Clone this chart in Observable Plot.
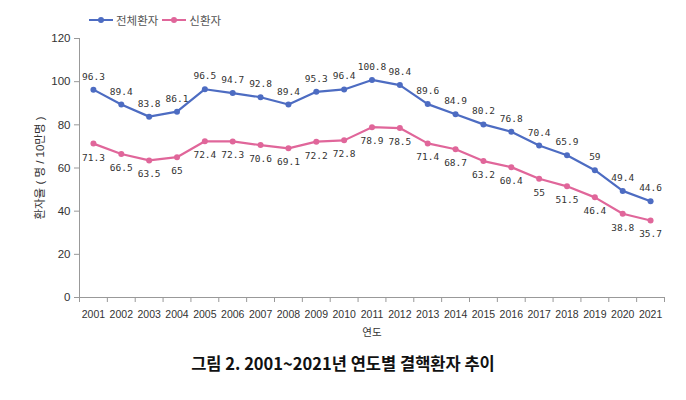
<!DOCTYPE html>
<html><head><meta charset="utf-8">
<script src="https://cdn.jsdelivr.net/npm/d3@7"></script>
<script src="https://cdn.jsdelivr.net/npm/@observablehq/plot@0.6"></script>
<style>
body{margin:0;background:#fff;font-family:"Liberation Sans","Noto Sans CJK KR",sans-serif;}
#wrap{position:relative;width:686px;height:400px;}
#legend{position:absolute;left:89px;top:12px;font-size:11.5px;color:#555;display:flex;align-items:center;font-family:"Noto Sans CJK KR",sans-serif;}
.sw{display:inline-block;position:relative;width:24px;height:2px;margin-right:3px;}
.sw i{position:absolute;left:9px;top:-2.5px;width:6px;height:6px;border-radius:50%;}
#chart{position:absolute;left:0;top:0;}
#title{position:absolute;left:0;width:686px;top:351px;text-align:center;font-size:16.5px;font-weight:bold;color:#111;font-family:"Noto Sans CJK KR",sans-serif;}
</style></head>
<body><div id="wrap"><div id="legend"></div><div id="chart"></div><div id="title">그림 2. 2001~2021년 연도별 결핵환자 추이</div></div>
<script>
const years = [2001,2002,2003,2004,2005,2006,2007,2008,2009,2010,2011,2012,2013,2014,2015,2016,2017,2018,2019,2020,2021];
const totalRate = [96.3,89.4,83.8,86.1,96.5,94.7,92.8,89.4,95.3,96.4,100.8,98.4,89.6,84.9,80.2,76.8,70.4,65.9,59,49.4,44.6];
const newRate = [71.3,66.5,63.5,65,72.4,72.3,70.6,69.1,72.2,72.8,78.9,78.5,71.4,68.7,63.2,60.4,55,51.5,46.4,38.8,35.7];
const seriesNames = ["전체환자","신환자"];
const seriesColors = ["#4d6cc2","#e0669a"];
const yTicks = [0,20,40,60,80,100,120];

const totalData = years.map((yr,i)=>({year:yr, value:totalRate[i], series:seriesNames[0]}));
const newData = years.map((yr,i)=>({year:yr, value:newRate[i], series:seriesNames[1]}));
const data = totalData.concat(newData);
const bounds = years.map(y=>y-0.5).concat([years[years.length-1]+0.5]);

const legend = document.getElementById("legend");
seriesNames.forEach((n,i)=>{
  const s=document.createElement("span");
  s.style.display="inline-flex";s.style.alignItems="center";s.style.marginRight="4px";
  s.innerHTML=`<span class="sw" style="background:${seriesColors[i]}"><i style="background:${seriesColors[i]}"></i></span>${n}`;
  legend.appendChild(s);
});

const chart = Plot.plot({
  width:686, height:345,
  marginLeft:79, marginRight:22, marginTop:38, marginBottom:48,
  style:{fontFamily:'"Liberation Sans","Noto Sans CJK KR",sans-serif', color:"#333", background:"transparent"},
  x:{type:"linear", domain:[bounds[0], bounds[bounds.length-1]]},
  y:{domain:[0,120]},
  color:{domain:seriesNames, range:seriesColors},
  marks:[
    Plot.axisY({ticks:yTicks, tickSize:5, tickPadding:4, fontSize:11.5, stroke:"#999", fill:"#333",
      label:"환자율 ( 명 / 10만명 )", labelAnchor:"center", labelOffset:44, labelArrow:false}),
    Plot.axisX({ticks:years, tickSize:0, tickPadding:13, tickFormat:"d", fontSize:10.5, fill:"#333",
      label:"연도", labelAnchor:"center", labelOffset:38, labelArrow:false}),
    Plot.axisX({ticks:bounds, tickSize:5, stroke:"#999", tickFormat:()=>"", label:null}),
    Plot.ruleX([bounds[0]], {y1:0, y2:120, stroke:"#999"}),
    Plot.ruleY([0], {stroke:"#999"}),
    Plot.line(data, {x:"year", y:"value", z:"series", stroke:"series", strokeWidth:2.2}),
    Plot.dot(data, {x:"year", y:"value", fill:"series", r:3}),
    Plot.text(totalData, {x:"year", y:"value", text:d=>String(d.value), dy:-13, fontSize:9.5, fill:"#333", fontFamily:"DejaVu Sans Mono"}),
    Plot.text(newData, {x:"year", y:"value", text:d=>String(d.value), dy:14, fontSize:9.5, fill:"#333", fontFamily:"DejaVu Sans Mono"})
  ]
});
document.getElementById("chart").appendChild(chart);
</script></body></html>
